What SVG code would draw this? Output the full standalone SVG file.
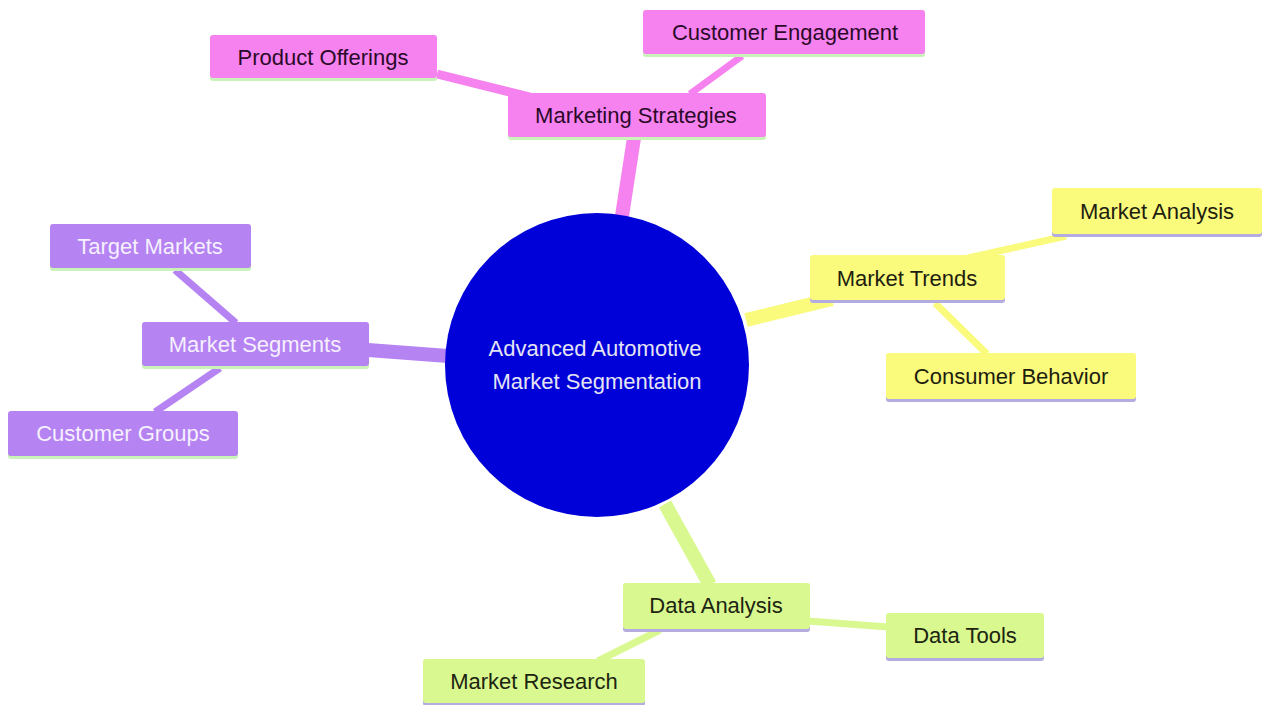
<svg xmlns="http://www.w3.org/2000/svg" width="1263" height="705" viewBox="0 0 1263 705">
<style>
text{font-family:"Liberation Sans",Arial,sans-serif;font-size:22px;text-anchor:middle;dominant-baseline:central}
.pink rect.b{fill:#f682ef}.pink text{fill:#2a0a28}
.yel rect.b{fill:#fafa7c}.yel text{fill:#1e1e10}
.lime rect.b{fill:#d9f890}.lime text{fill:#1c2410}
.pur rect.b{fill:#b583f2}.pur text{fill:#f6f0ff}
.gl{fill:#c9f3b8}.lv{fill:#b4ace0}
.c{fill:none;stroke-linecap:butt}
</style>
<rect width="1263" height="705" fill="#ffffff"/>
<g id="connectors">
<line class="c" x1="622" y1="216" x2="634" y2="138" stroke="#f682ef" stroke-width="14"/>
<line class="c" x1="437" y1="74" x2="530" y2="97" stroke="#f682ef" stroke-width="9"/>
<line class="c" x1="742" y1="56" x2="690" y2="94" stroke="#f682ef" stroke-width="7"/>
<line class="c" x1="746" y1="320" x2="832" y2="299" stroke="#fafa7c" stroke-width="14"/>
<line class="c" x1="1066" y1="236" x2="968" y2="258" stroke="#fafa7c" stroke-width="7"/>
<line class="c" x1="935" y1="303" x2="987" y2="354" stroke="#fafa7c" stroke-width="7"/>
<line class="c" x1="448" y1="356" x2="368" y2="350" stroke="#b583f2" stroke-width="14"/>
<line class="c" x1="175" y1="270" x2="236" y2="323" stroke="#b583f2" stroke-width="7"/>
<line class="c" x1="220" y1="368" x2="155" y2="412" stroke="#b583f2" stroke-width="7"/>
<line class="c" x1="665" y1="504" x2="710" y2="585" stroke="#d9f890" stroke-width="14"/>
<line class="c" x1="808" y1="621" x2="888" y2="627" stroke="#d9f890" stroke-width="7"/>
<line class="c" x1="660" y1="630" x2="598" y2="661" stroke="#d9f890" stroke-width="7"/>
</g>
<g id="root">
<circle cx="597" cy="365" r="152" fill="#0000d8"/>
<text x="595" y="348" fill="#e4e4f4">Advanced Automotive</text>
<text x="597" y="381" fill="#e4e4f4">Market Segmentation</text>
</g>
<g id="marketing-strategies" class="pink">
<rect class="gl" x="508" y="95" width="258" height="45" rx="3"/>
<rect class="b" x="508" y="93" width="258" height="44" rx="3"/>
<text x="636" y="115">Marketing Strategies</text>
</g>
<g id="product-offerings" class="pink">
<rect class="gl" x="210" y="37" width="227" height="44" rx="3"/>
<rect class="b" x="210" y="35" width="227" height="43" rx="3"/>
<text x="323" y="57">Product Offerings</text>
</g>
<g id="customer-engagement" class="pink">
<rect class="gl" x="643" y="12" width="282" height="45" rx="3"/>
<rect class="b" x="643" y="10" width="282" height="44" rx="3"/>
<text x="785" y="32">Customer Engagement</text>
</g>
<g id="market-trends" class="yel">
<rect class="lv" x="810" y="257" width="195" height="46" rx="3"/>
<rect class="b" x="810" y="255" width="195" height="45" rx="3"/>
<text x="907" y="278">Market Trends</text>
</g>
<g id="market-analysis" class="yel">
<rect class="lv" x="1052" y="190" width="210" height="47" rx="3"/>
<rect class="b" x="1052" y="188" width="210" height="46" rx="3"/>
<text x="1157" y="211">Market Analysis</text>
</g>
<g id="consumer-behavior" class="yel">
<rect class="lv" x="886" y="355" width="250" height="47" rx="3"/>
<rect class="b" x="886" y="353" width="250" height="46" rx="3"/>
<text x="1011" y="376">Consumer Behavior</text>
</g>
<g id="market-segments" class="pur">
<rect class="gl" x="142" y="324" width="227" height="45" rx="3"/>
<rect class="b" x="142" y="322" width="227" height="44" rx="3"/>
<text x="255" y="344">Market Segments</text>
</g>
<g id="target-markets" class="pur">
<rect class="gl" x="50" y="226" width="201" height="45" rx="3"/>
<rect class="b" x="50" y="224" width="201" height="44" rx="3"/>
<text x="150" y="246">Target Markets</text>
</g>
<g id="customer-groups" class="pur">
<rect class="gl" x="8" y="413" width="230" height="46" rx="3"/>
<rect class="b" x="8" y="411" width="230" height="45" rx="3"/>
<text x="123" y="433">Customer Groups</text>
</g>
<g id="data-analysis" class="lime">
<rect class="lv" x="623" y="585" width="187" height="47" rx="3"/>
<rect class="b" x="623" y="583" width="187" height="46" rx="3"/>
<text x="716" y="605">Data Analysis</text>
</g>
<g id="data-tools" class="lime">
<rect class="lv" x="886" y="615" width="158" height="46" rx="3"/>
<rect class="b" x="886" y="613" width="158" height="45" rx="3"/>
<text x="965" y="635">Data Tools</text>
</g>
<g id="market-research" class="lime">
<rect class="lv" x="423" y="661" width="222" height="45" rx="3"/>
<rect class="b" x="423" y="659" width="222" height="44" rx="3"/>
<text x="534" y="681">Market Research</text>
</g>
</svg>
